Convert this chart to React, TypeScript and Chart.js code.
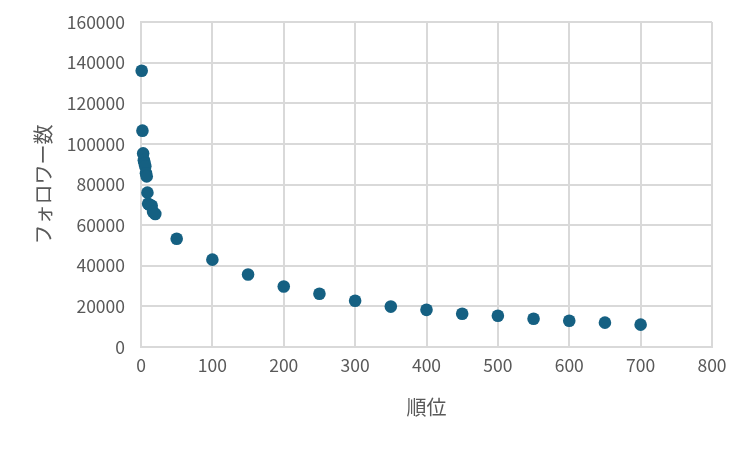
import React, { useEffect, useRef } from "react";
import { Chart, registerables } from "chart.js";

Chart.register(...registerables);

const ranks: number[] = [1, 2, 3, 4, 5, 6, 7, 8, 9, 10, 12, 15, 17, 20, 50, 100, 150, 200, 250, 300, 350, 400, 450, 500, 550, 600, 650, 700];
const followers: number[] = [136000, 106500, 95300, 92000, 90500, 89000, 85500, 84000, 76000, 70500, 70000, 69500, 66500, 65500, 53300, 43000, 35700, 29800, 26200, 22800, 19900, 18300, 16400, 15400, 13900, 12900, 12000, 11000];

const xTitle = "順位";
const yTitle = "フォロワー数";
const xMax = 800;
const yMax = 160000;

export default function App() {
  const ref = useRef<HTMLCanvasElement | null>(null);
  useEffect(() => {
    if (!ref.current) return;
    const gray = "#595959";
    const grid = "#d9d9d9";
    const font = "'Noto Sans CJK JP', 'Noto Sans', sans-serif";
    const chart = new Chart(ref.current, {
      type: "scatter",
      data: {
        datasets: [
          {
            data: ranks.map((r, i) => ({ x: r, y: followers[i] })),
            backgroundColor: "#156082",
            borderWidth: 0,
            pointRadius: 6.3,
            clip: false,
          } as any,
        ],
      },
      options: {
        responsive: false,
        animation: false,
        layout: { padding: { left: 0, right: 37, top: 22, bottom: 0 } },
        plugins: { legend: { display: false }, tooltip: { enabled: false } },
        scales: {
          x: {
            type: "linear",
            min: 0,
            max: xMax,
            afterFit: (s: any) => { s.height = 103; s.paddingLeft = 0; s.paddingRight = 0; },
            ticks: { stepSize: 100, color: gray, font: { family: font, size: 17.5 }, padding: 8, callback: (v: any) => String(v), maxRotation: 0 },
            grid: { color: grid, lineWidth: 2, drawTicks: false },
            border: { color: grid, width: 2 },
            title: { display: true, text: xTitle, color: gray, font: { family: font, size: 20 }, padding: { top: 0, bottom: 31 } },
          },
          y: {
            min: 0,
            max: yMax,
            afterFit: (s: any) => { s.width = 141; s.paddingTop = 0; s.paddingBottom = 0; },
            ticks: { stepSize: 20000, color: gray, font: { family: font, size: 17.5 }, padding: 16, callback: (v: any) => String(v) },
            grid: { color: grid, lineWidth: 2, drawTicks: false },
            border: { color: grid, width: 2 },
            title: { display: true, text: yTitle, color: gray, font: { family: font, size: 20 }, padding: { top: 31, bottom: 0 } },
          },
        },
      },
    });
    return () => chart.destroy();
  }, []);
  return (
    <div style={{ position: "fixed", left: 0, top: 0, width: 749, height: 450, background: "#fff" }}>
      <canvas ref={ref} width={749} height={450} />
    </div>
  );
}
